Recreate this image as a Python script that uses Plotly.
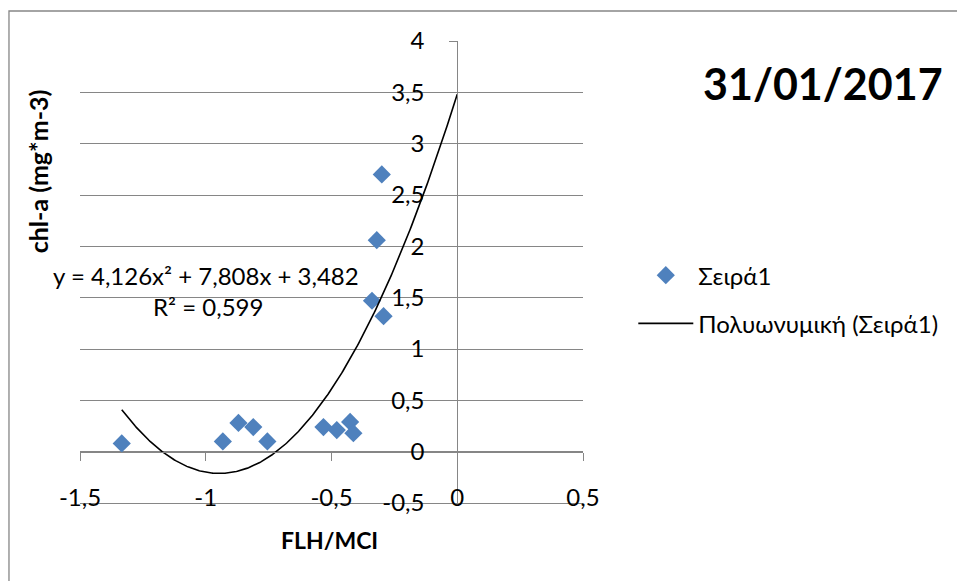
import numpy as np
import plotly.graph_objects as go

# Observations: FLH/MCI index vs chlorophyll-a
flh_mci = [-1.334, -0.932, -0.870, -0.811, -0.755, -0.532, -0.479,
           -0.426, -0.413, -0.339, -0.293, -0.320, -0.300]
chl_a = [0.08, 0.10, 0.28, 0.24, 0.10, 0.24, 0.21,
         0.29, 0.18, 1.47, 1.32, 2.06, 2.70]

# Second-order polynomial trendline
poly_a, poly_b, poly_c = 4.126, 7.808, 3.482
r_squared = 0.599

series_name = "Σειρά1"
trend_name = "Πολυωνυμική (Σειρά1)"
chart_title = "31/01/2017"
x_title = "FLH/MCI"
y_title = "chl-a (mg*m-3)"

x_range = [-1.5, 0.5]
y_range = [-0.5, 4]
x_ticks = [-1.5, -1.0, -0.5, 0.0, 0.5]
x_tick_labels = ["-1,5", "-1", "-0,5", "0", "0,5"]
y_ticks = [-0.5, 0.0, 0.5, 1.0, 1.5, 2.0, 2.5, 3.0, 3.5, 4.0]
y_tick_labels = ["-0,5", "0", "0,5", "1", "1,5", "2", "2,5", "3", "3,5", "4"]


def num(v):
    return f"{v:.3f}".replace(".", ",")


trend_x = np.linspace(min(flh_mci), 0, 300)
trend_y = poly_a * trend_x ** 2 + poly_b * trend_x + poly_c

eq_text = f"y = {num(poly_a)}x² + {num(poly_b)}x + {num(poly_c)}"
r2_text = f"R² = {num(r_squared)}"

grey = "#868686"
blue = "#4F81BD"
FONT = "Lato"

fig = go.Figure()

fig.add_trace(go.Scatter(
    x=flh_mci, y=chl_a, mode="markers", name=series_name,
    marker=dict(symbol="diamond", size=14, color=blue, line=dict(width=0)),
    legendgroup="a",
))
fig.add_trace(go.Scatter(
    x=trend_x, y=trend_y, mode="lines", name=trend_name,
    line=dict(color="black", width=1.6),
    legendgroup="b",
))
# carrier trace for the bottom-edge axis (grid line + tick labels)
fig.add_trace(go.Scatter(
    x=flh_mci, y=chl_a, xaxis="x2", mode="markers",
    marker=dict(opacity=0), showlegend=False, hoverinfo="skip",
))

x_cross = (0 - y_range[0]) / (y_range[1] - y_range[0])
y_cross = (0 - x_range[0]) / (x_range[1] - x_range[0])

fig.update_layout(
    width=957, height=581,
    margin=dict(l=80, r=374, t=41, b=78),
    paper_bgcolor="white", plot_bgcolor="white",
    font=dict(family=FONT, color="black"),
    showlegend=True,
    legend=dict(
        x=1.100, y=0.541, xanchor="left", yanchor="top",
        font=dict(family=FONT, size=24),
        itemwidth=55, tracegroupgap=14, traceorder="grouped",
        bgcolor="rgba(0,0,0,0)",
    ),
    # axis line through y = 0 with its tick marks
    xaxis=dict(
        range=x_range, tickvals=x_ticks, anchor="free", position=x_cross,
        showline=True, linecolor=grey, linewidth=1,
        ticks="outside", ticklen=8, tickcolor=grey,
        showticklabels=False, showgrid=False, zeroline=False,
    ),
    # bottom edge: the y = -0,5 line and the x tick labels sitting above it
    xaxis2=dict(
        range=x_range, tickvals=x_ticks, ticktext=x_tick_labels,
        overlaying="x", side="bottom", anchor="y",
        showline=True, linecolor=grey, linewidth=1, ticks="",
        tickfont=dict(family=FONT, size=24), ticklabelstandoff=-27,
        showgrid=False, zeroline=False,
    ),
    yaxis=dict(
        range=y_range, tickvals=y_ticks, ticktext=y_tick_labels,
        anchor="free", position=y_cross,
        showline=True, linecolor=grey, linewidth=1,
        ticks="outside", ticklen=8, tickcolor=grey,
        tickfont=dict(family=FONT, size=24), ticklabelstandoff=20,
        showgrid=True, gridcolor=grey, gridwidth=1, zeroline=False,
    ),
    annotations=[
        dict(text=f"<b>{chart_title}</b>", xref="paper", yref="paper",
             x=1.477, y=0.909, xanchor="center", yanchor="middle",
             showarrow=False, font=dict(family=FONT, size=43)),
        dict(text=f"<b>{y_title}</b>", xref="paper", yref="paper",
             x=-0.0835, y=0.718, xanchor="center", yanchor="middle",
             textangle=-90, showarrow=False,
             font=dict(family=FONT, size=25)),
        dict(text=f"<b>{x_title}</b>", xref="paper", yref="paper",
             x=0.497, y=-0.080, xanchor="center", yanchor="middle",
             showarrow=False, font=dict(family=FONT, size=23)),
        dict(text=eq_text, xref="x", yref="y", x=-0.998, y=1.72,
             xanchor="center", yanchor="middle",
             showarrow=False, font=dict(family=FONT, size=24)),
        dict(text=r2_text, xref="x", yref="y", x=-0.992, y=1.41,
             xanchor="center", yanchor="middle",
             showarrow=False, font=dict(family=FONT, size=24)),
    ],
    shapes=[
        # chart-area frame
        dict(type="rect", xref="paper", yref="paper",
             x0=-0.1412, y0=-0.2, x1=1.8, y1=1.0649,
             line=dict(color=grey, width=1.3), layer="below"),
    ],
)

fig.write_html("out.html")
